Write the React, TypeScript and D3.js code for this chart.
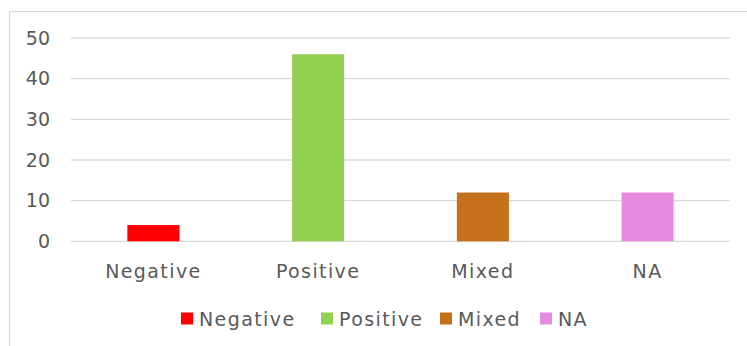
import React from "react";
import * as d3 from "d3";

const categories = ["Negative", "Positive", "Mixed", "NA"];
const values = [4, 46, 12, 12];
const colors = ["#FF0000", "#92D050", "#C5701A", "#E68AE0"];
const yTicks = [0, 10, 20, 30, 40, 50];

const W = 747;
const H = 346;
const FONT = "'DejaVu Sans', sans-serif";
const TEXT = "#595959";

export default function App() {
  const x = d3.scaleBand<string>().domain(categories).range([71, 730]).paddingInner(0.684).paddingOuter(0.342);
  const y = d3.scaleLinear().domain([0, 50]).range([241.3, 38]);

  // legend layout
  const legendX = [181, 321, 440, 540];

  return (
    <svg
      width={W}
      height={H}
      style={{ position: "absolute", left: 0, top: 0, background: "#fff" }}
      fontFamily={FONT}
    >
      <rect x={9.5} y={11.5} width={745} height={345} fill="#fff" stroke="#D9D9D9" strokeWidth={1.2} />
      {yTicks.map((t) => (
        <g key={t}>
          <line x1={71} x2={730} y1={y(t)} y2={y(t)} stroke="#D9D9D9" strokeWidth={1.3} />
          <text x={50} y={y(t)} dy="0.35em" textAnchor="end" fontSize={19} fill={TEXT}>
            {t}
          </text>
        </g>
      ))}
      {categories.map((c, i) => (
        <rect
          key={c}
          x={x(c)}
          width={x.bandwidth()}
          y={y(values[i])}
          height={y(0) - y(values[i])}
          fill={colors[i]}
        />
      ))}
      {categories.map((c) => (
        <text
          key={c}
          x={(x(c) as number) + x.bandwidth() / 2}
          y={278}
          textAnchor="middle"
          fontSize={19}
          letterSpacing={1.4}
          fill={TEXT}
        >
          {c}
        </text>
      ))}
      {categories.map((c, i) => (
        <g key={c}>
          <rect x={legendX[i]} y={312.5} width={12} height={12} fill={colors[i]} />
          <text x={legendX[i] + 18} y={326} fontSize={19} letterSpacing={1.4} fill={TEXT}>
            {c}
          </text>
        </g>
      ))}
    </svg>
  );
}
